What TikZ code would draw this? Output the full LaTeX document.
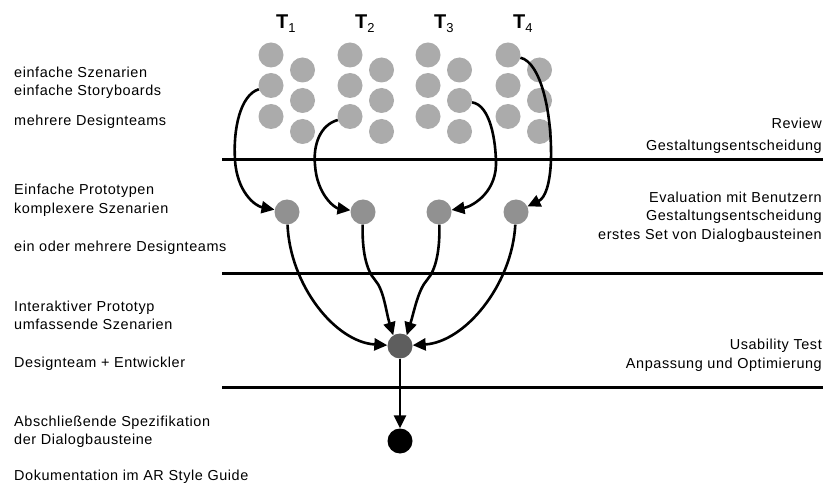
\documentclass[tikz,border=0pt]{standalone}
\usepackage{fontspec}
\setmainfont{Liberation Sans}[LetterSpace=4]
\newfontfamily\labelfont{Liberation Sans}
\usetikzlibrary{arrows.meta}
\begin{document}
\begin{tikzpicture}[x=1bp,y=-1bp,
  txt/.style={inner sep=0pt,font=\fontsize{14.5}{17}\selectfont},
  ltxt/.style={txt,anchor=base west},
  rtxt/.style={txt,anchor=base east},
  dot/.style={circle,inner sep=0pt,minimum size=25bp},
  idea/.style={dot,fill=black!33},
  proto/.style={dot,fill=black!43},
  merged/.style={dot,fill=black!63},
  final/.style={dot,fill=black},
  phase/.style={line width=3bp},
  flow/.style={line width=2.6bp,-{Triangle[length=13bp,width=12bp]}},
  tlab/.style={inner sep=0pt,anchor=base west}
]
\useasboundingbox (0,0) rectangle (826,485);

% phase separators
\coordinate (s1l) at (222,160); \coordinate (s1r) at (823,160);
\coordinate (s2l) at (222,274); \coordinate (s2r) at (823,274);
\coordinate (s3l) at (222,387); \coordinate (s3r) at (823,387);
\draw[phase] (s1l) -- (s1r);
\draw[phase] (s2l) -- (s2r);
\draw[phase] (s3l) -- (s3r);

% team labels
\newcommand\teamlabel[1]{{\labelfont\fontsize{20}{20}\selectfont\bfseries T}\raisebox{-4bp}{\labelfont\fontsize{13}{13}\selectfont #1}}
\node[tlab] (t1) at (276,29) {\teamlabel{1}};
\node[tlab] (t2) at (355,29) {\teamlabel{2}};
\node[tlab] (t3) at (434,29) {\teamlabel{3}};
\node[tlab] (t4) at (513,29) {\teamlabel{4}};

% design ideas of each team: two staggered columns of three
\foreach \t/\x in {1/271,2/350,3/428,4/508}{
  \node[idea] (a\t1) at (\x,55) {};
  \node[idea] (a\t2) at (\x,85.5) {};
  \node[idea] (a\t3) at (\x,116.5) {};
  \node[idea] (b\t1) at (\x+31.5,70) {};
  \node[idea] (b\t2) at (\x+31.5,100.5) {};
  \node[idea] (b\t3) at (\x+31.5,131.5) {};
}

% simple prototypes
\node[proto] (m1) at (287,212) {};
\node[proto] (m2) at (363,212) {};
\node[proto] (m3) at (439,212) {};
\node[proto] (m4) at (516,212) {};

% interactive prototype and final specification
\node[merged] (c) at (400,346) {};
\node[final] (f) at (400,441) {};

% selected ideas -> prototypes
\draw[flow] (a12) .. controls (240,95) and (233,130) .. (235,160)
                  .. controls (237,192) and (255,206) .. (m1);
\draw[flow] (a23) .. controls (320,125) and (313,145) .. (315,165)
                  .. controls (317,195) and (335,208) .. (m2);
\draw[flow] (b32) .. controls (490,105) and (496,140) .. (496,165)
                  .. controls (495,195) and (470,207) .. (m3);
\draw[flow] (a41) .. controls (540,62) and (552,110) .. (551,160)
                  .. controls (550,185) and (545,198) .. (m4);

% prototypes -> interactive prototype
\draw[flow] (m1) .. controls (290,285) and (335,342) .. (c);
\draw[flow] (m2) .. controls (362,250) and (366,270) .. (375,280)
                 .. controls (384,290) and (386,312) .. (c.122);
\draw[flow] (m3) .. controls (440,250) and (436,270) .. (427,280)
                 .. controls (418,290) and (414,312) .. (c.58);
\draw[flow] (m4) .. controls (512,285) and (465,342) .. (c);

% interactive prototype -> specification
\draw[flow] (c) -- (f);

% left column: artefacts and participants
\node[ltxt] (l1) at (14,77.3) {einfache Szenarien};
\node[ltxt] (l2) at (14,96) {einfache Storyboards};
\node[ltxt] (l3) at (14,126) {mehrere Designteams};
\node[ltxt] (l4) at (14,195) {Einfache Prototypen};
\node[ltxt] (l5) at (14,213.3) {komplexere Szenarien};
\node[ltxt] (l6) at (14,251.7) {ein oder mehrere Designteams};
\node[ltxt] (l7) at (14,311.7) {Interaktiver Prototyp};
\node[ltxt] (l8) at (14,330) {umfassende Szenarien};
\node[ltxt] (l9) at (14,367) {Designteam + Entwickler};
\node[ltxt] (l10) at (14,426) {Abschließende Spezifikation};
\node[ltxt] (l11) at (14,444) {der Dialogbausteine};
\node[ltxt] (l12) at (14,480) {Dokumentation im AR Style Guide};

% right column: evaluation steps
\node[rtxt] (r1) at (822,128.3) {Review};
\node[rtxt] (r2) at (822,150.7) {Gestaltungsentscheidung};
\node[rtxt] (r3) at (822,202.7) {Evaluation mit Benutzern};
\node[rtxt] (r4) at (822,220.7) {Gestaltungsentscheidung};
\node[rtxt] (r5) at (822,239.3) {erstes Set von Dialogbausteinen};
\node[rtxt] (r6) at (822,349.3) {Usability Test};
\node[rtxt] (r7) at (822,368.3) {Anpassung und Optimierung};
\end{tikzpicture}
\end{document}
